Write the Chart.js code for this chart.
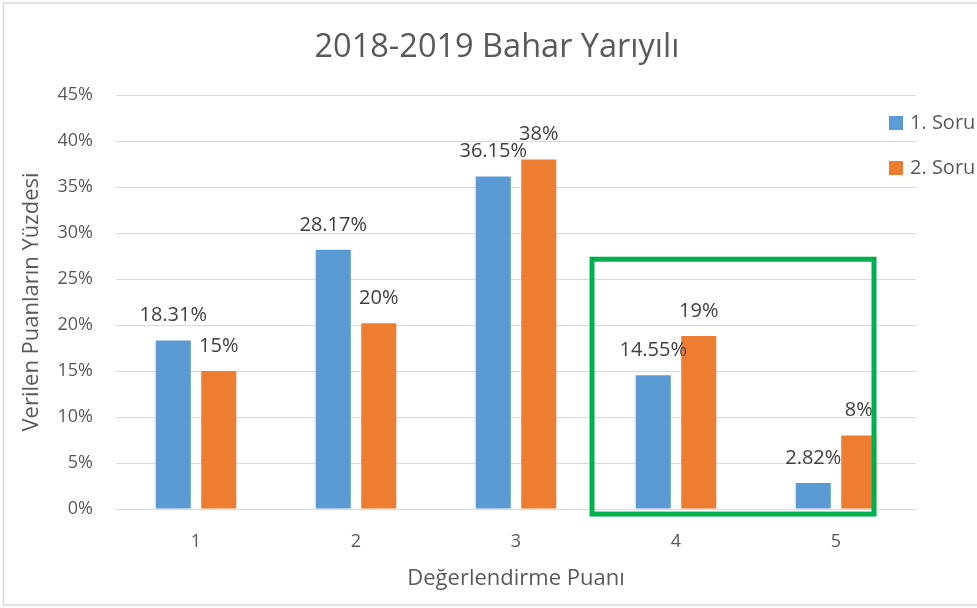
<!DOCTYPE html>
<html>
<head>
<meta charset="utf-8">
<script src="https://cdn.jsdelivr.net/npm/chart.js@4"></script>
<style>
  html, body { margin: 0; padding: 0; background: #ffffff; overflow: hidden; }
  #wrap { position: absolute; left: 0; top: 0; width: 1060px; height: 608px; }
  canvas { display: block; }
</style>
</head>
<body>
<div id="wrap"><canvas id="c" width="1060" height="608"></canvas></div>
<script>
// ---- data ----
const categories = ['1', '2', '3', '4', '5'];
const seriesNames = ['1. Soru', '2. Soru'];
const soru1 = [18.31, 28.17, 36.15, 14.55, 2.82];
const soru2 = [15.0, 20.2, 38.0, 18.8, 8.0];
const labelDecimals = [2, 0];
const yTicks = [0, 5, 10, 15, 20, 25, 30, 35, 40, 45];

const chartTitle = '2018-2019 Bahar Yarıyılı';
const xTitle = 'Değerlendirme Puanı';
const yTitle = 'Verilen Puanların Yüzdesi';

// highlight box anchored in data space (category index, percent)
const highlight = { xFrom: 2.475, xTo: 4.2375, yFrom: -0.55, yTo: 27.15 };

const FONT = "'Open Sans', 'Noto Sans', sans-serif";
const TEXT = '#595959';
const LABEL = '#404040';
const colors = ['#5b9bd5', '#ed7d31'];

const framePlugin = {
  id: 'frame',
  beforeDraw(chart) {
    const ctx = chart.ctx;
    ctx.save();
    ctx.fillStyle = '#ffffff';
    ctx.fillRect(0, 0, chart.width, chart.height);
    ctx.strokeStyle = '#d9d9d9';
    ctx.lineWidth = 1.5;
    ctx.strokeRect(3.5, 3, 1200, 602);
    // chart title
    ctx.font = '32.5px ' + FONT;
    ctx.fillStyle = TEXT;
    ctx.textAlign = 'center';
    ctx.textBaseline = 'middle';
    ctx.fillText(chartTitle, 497, 48);
    ctx.restore();
  }
};

const labelPlugin = {
  id: 'valueLabels',
  afterDatasetsDraw(chart) {
    const ctx = chart.ctx;
    ctx.save();
    ctx.font = '20px ' + FONT;
    ctx.fillStyle = LABEL;
    ctx.textAlign = 'center';
    ctx.textBaseline = 'middle';
    chart.data.datasets.forEach((ds, di) => {
      const meta = chart.getDatasetMeta(di);
      meta.data.forEach((bar, i) => {
        const txt = ds.data[i].toFixed(labelDecimals[di]) + '%';
        ctx.fillText(txt, bar.x, bar.y - 25);
      });
    });
    ctx.restore();
  }
};

const highlightPlugin = {
  id: 'highlightBox',
  afterDatasetsDraw(chart) {
    const x = chart.scales.x, y = chart.scales.y;
    const x0 = x.getPixelForValue(highlight.xFrom);
    const x1 = x.getPixelForValue(highlight.xTo);
    const y0 = y.getPixelForValue(highlight.yTo);
    const y1 = y.getPixelForValue(highlight.yFrom);
    const ctx = chart.ctx;
    ctx.save();
    ctx.strokeStyle = '#00b050';
    ctx.lineWidth = 5;
    ctx.strokeRect(x0, y0, x1 - x0, y1 - y0);
    ctx.restore();
  }
};

const legendPlugin = {
  id: 'sideLegend',
  afterDraw(chart) {
    const ctx = chart.ctx;
    ctx.save();
    ctx.font = '20px ' + FONT;
    ctx.textBaseline = 'middle';
    ctx.textAlign = 'left';
    const left = chart.chartArea.right - 27;
    chart.data.datasets.forEach((ds, i) => {
      const cy = 123 + i * 45;
      ctx.fillStyle = ds.backgroundColor;
      ctx.fillRect(left, cy - 7, 14, 14);
      ctx.fillStyle = TEXT;
      ctx.fillText(ds.label, left + 21, cy);
    });
    ctx.restore();
  }
};

new Chart(document.getElementById('c'), {
  type: 'bar',
  data: {
    labels: categories,
    datasets: [
      { label: seriesNames[0], data: soru1, backgroundColor: colors[0] },
      { label: seriesNames[1], data: soru2, backgroundColor: colors[1] }
    ]
  },
  options: {
    responsive: false,
    animation: false,
    devicePixelRatio: 1,
    layout: { padding: { left: 0, right: 144, top: 95, bottom: 0 } },
    datasets: { bar: { categoryPercentage: 0.569, barPercentage: 0.77 } },
    plugins: {
      legend: { display: false },
      tooltip: { enabled: false },
      title: { display: false }
    },
    scales: {
      x: {
        grid: { display: false },
        border: { display: false },
        ticks: { color: TEXT, font: { family: FONT, size: 18 }, padding: 14 },
        title: {
          display: true, text: xTitle, color: TEXT,
          font: { family: FONT, size: 22, lineHeight: 1.2 },
          padding: { top: 0, bottom: 16 }
        },
        afterFit(s) { s.height = 99; }
      },
      y: {
        min: 0, max: 45,
        afterBuildTicks(s) { s.ticks = yTicks.map(v => ({ value: v })); },
        grid: { color: '#d9d9d9', lineWidth: 1, drawTicks: false },
        border: { display: false },
        ticks: {
          color: TEXT, font: { family: FONT, size: 18 }, padding: 23,
          callback: v => v + '%'
        },
        title: {
          display: true, text: yTitle, color: TEXT,
          font: { family: FONT, size: 22, lineHeight: 1.2 },
          padding: { top: 19, bottom: 0 }
        },
        afterFit(s) { s.width = 116; }
      }
    }
  },
  plugins: [framePlugin, labelPlugin, highlightPlugin, legendPlugin]
});
</script>
</body>
</html>
